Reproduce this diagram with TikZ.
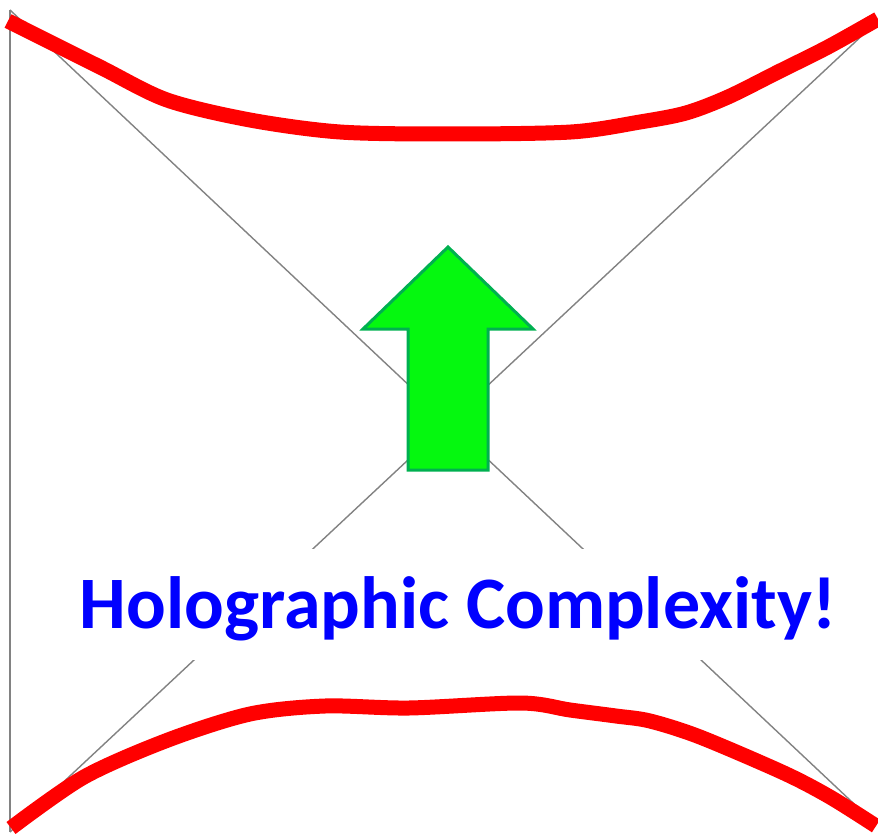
\documentclass[tikz,border=0pt]{standalone}
\usepackage{fontspec}
\usepackage{tikz}
\usetikzlibrary{positioning}
\newfontfamily\capfont{Carlito}
\definecolor{ray}{RGB}{130,130,130}
\definecolor{rim}{RGB}{255,0,0}
\definecolor{leaf}{RGB}{5,248,15}
\definecolor{stem}{RGB}{0,176,80}
\definecolor{ink}{RGB}{0,0,255}

\begin{document}
\begin{tikzpicture}[
  x=1pt, y=-1pt,
  ray/.style={draw=ray, line width=1.4pt},
  rim/.style={draw=rim, line width=15pt},
  growth/.style={draw=stem, fill=leaf, line width=3pt, line join=miter},
  banner/.style={fill=white, text=ink, font=\capfont\bfseries\fontsize{74}{84}\selectfont,
                 inner sep=0pt, text height=79pt, text depth=32pt, minimum width=780pt},
]
  \useasboundingbox (0,0) rectangle (878,837);
  \coordinate (nw) at (10,10);
  \coordinate (sw) at (10,832);
  \coordinate (ne) at (868,30);
  \coordinate (se) at (868,817);
  \draw[ray] (nw)--(sw); \draw[ray] (nw)--(se); \draw[ray] (ne)--(sw);
  \node[banner, anchor=base] (title) at (458,628) {Holographic Complexity!};
  \draw[growth] (448,247)--(533,329)--(488,329)--(488,470)--(408,470)--(408,329)--(363,329)--cycle;
  \draw[rim] plot[smooth] coordinates {(8,21) (100,67) (167,100) (250,120) (340,132) (449,134)
    (571,132) (640,122) (686,113) (728,97) (778,72) (828,47) (878,19)};
  \draw[rim] plot[smooth] coordinates {(11,828) (84,777) (168,740) (250,714) (325,706) (409,708)
    (521,703) (570,710) (616,716) (650,721) (700,737) (784,773) (830,797) (876,826)};
\end{tikzpicture}
\end{document}
